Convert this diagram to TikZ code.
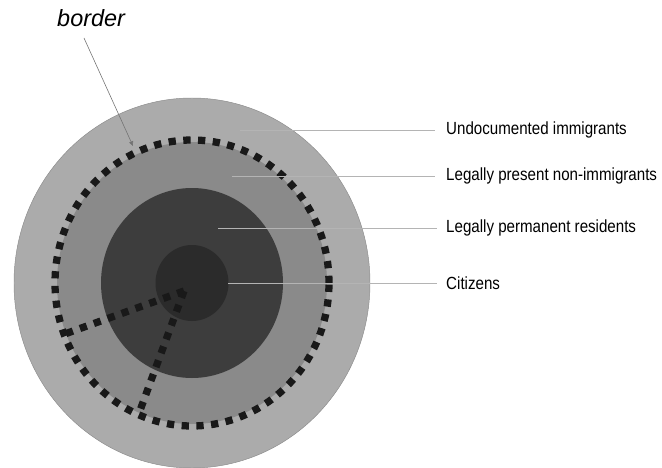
\documentclass[tikz,border=0pt]{standalone}
\usepackage{fontspec}
\setmainfont{Liberation Sans}
\newfontfamily\narrowsans[FakeStretch=0.86]{Liberation Sans}
\usetikzlibrary{arrows.meta, calc}
\definecolor{outergray}{HTML}{ABABAB}
\definecolor{midgray}{HTML}{8A8A8A}
\definecolor{darkgray}{HTML}{3D3D3D}
\definecolor{coregray}{HTML}{2B2B2B}
\definecolor{leadgray}{HTML}{B4B4B4}
\begin{document}
\begin{tikzpicture}[%
            x=0.3mm, y=0.3mm,
            leader/.style={draw=leadgray, line width=0.6pt},
            borderline/.style={draw=black!90, line width=6.2pt, dash pattern=on 6.2pt off 6.4pt},
            tag/.style={anchor=west, inner sep=0pt, font=\narrowsans\fontsize{15}{17}\selectfont}
        ]
        \useasboundingbox (0,0) rectangle (662,-468);
        \coordinate (c) at (192,-283);

        % the rings, outside in
        \draw [fill=outergray, draw=black!45, line width=0.4pt] (c) ellipse [x radius=178, y radius=185];
        \fill [midgray] (c) ellipse [x radius=135, y radius=141];
        \fill [darkgray] (c) ellipse [x radius=91, y radius=95];
        \fill [coregray] (c) ellipse [x radius=36.5, y radius=38];

        % dashed border and the two cuts
        \coordinate (hub) at (184,-291);
        \coordinate (cutL) at ($(c)+(201:137 and 143)$);
        \coordinate (cutB) at ($(c)+(247:137 and 143)$);
        \draw [borderline] (c) ellipse [x radius=137, y radius=143];
        \draw [borderline] (hub) -- (cutL) (hub) -- (cutB);

        % labels
        \node [tag] (undoc) at (446,-130) {Undocumented immigrants};
        \node [tag] (nonimm) at (446,-176) {Legally present non-immigrants};
        \node [tag] (perm) at (446,-228) {Legally permanent residents};
        \node [tag] (citz) at (446,-283) {Citizens};

        \coordinate (u0) at (240,-130);
        \coordinate (n0) at (232,-176);
        \coordinate (p0) at (218,-228);
        \coordinate (c0) at (228,-283);
        \draw [leader] (u0) -- ([xshift=-11*0.3mm]undoc.west);
        \draw [leader] (n0) -- ([xshift=-11*0.3mm]nonimm.west);
        \draw [leader] (p0) -- ([xshift=-9*0.3mm]perm.west);
        \draw [leader] (c0) -- ([xshift=-9*0.3mm]citz.west);

        % border pointer
        \node [anchor=base west, inner sep=0pt, font=\fontsize{20}{24}\selectfont\itshape] (border) at (57,-27) {border};
        \coordinate (bTip) at (133,-146);
        \draw [draw=black!55, line width=0.5pt, -{Triangle[length=4pt, width=3.5pt]}] (84,-38) -- (bTip);
    \end{tikzpicture}
\end{document}
